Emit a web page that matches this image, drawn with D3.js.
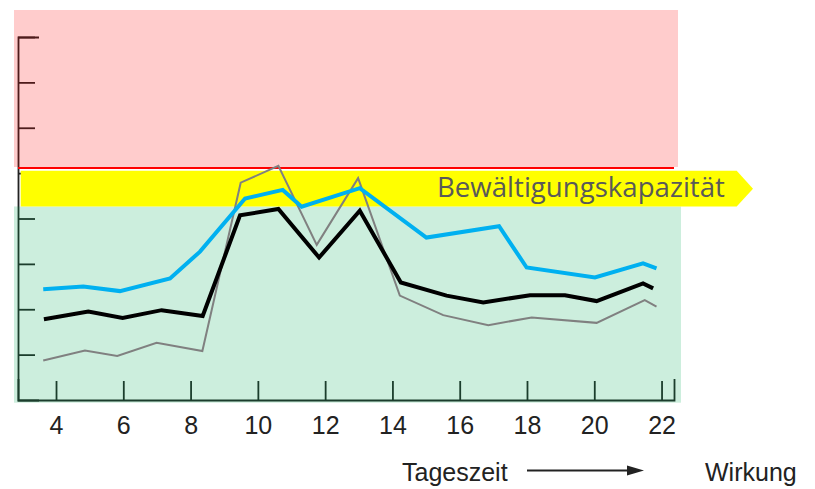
<!DOCTYPE html>
<html>
<head>
<meta charset="utf-8">
<script src="https://cdn.jsdelivr.net/npm/d3@7"></script>
<style>
  body { margin: 0; background: #fff; }
  svg { display: block; }
</style>
</head>
<body>
<script>
const W = 815, H = 489;

// hours of day (x) and load level (y, 0..8)
const blackHours  = [3.64, 4.96, 5.98, 7.14, 8.36, 9.47, 10.61, 11.82, 13.03, 14.25, 15.61, 16.70, 18.09, 19.13, 20.07, 21.45, 21.75];
const blackValues = [1.78, 1.95, 1.81, 1.98, 1.85, 4.07, 4.21, 3.14, 4.17, 2.59, 2.30, 2.15, 2.31, 2.31, 2.18, 2.57, 2.46];

const blueHours  = [3.62, 4.81, 5.90, 7.39, 8.28, 9.62, 10.74, 11.30, 13.03, 15.01, 17.17, 17.99, 20.02, 21.45, 21.85];
const blueValues = [2.44, 2.50, 2.40, 2.68, 3.27, 4.44, 4.63, 4.26, 4.67, 3.58, 3.83, 2.92, 2.70, 3.01, 2.90];

const grayHours  = [3.62, 4.86, 5.82, 6.99, 8.35, 9.49, 10.61, 11.75, 12.98, 14.22, 15.51, 16.85, 18.14, 20.07, 21.50, 21.85];
const grayValues = [0.87, 1.09, 0.97, 1.26, 1.08, 4.79, 5.16, 3.42, 4.89, 2.30, 1.87, 1.65, 1.82, 1.70, 2.20, 2.06];

const xTicks = [4, 6, 8, 10, 12, 14, 16, 18, 20, 22];
const yTicks = [1, 2, 3, 4, 5, 6, 7, 8];
const overloadLevel = 5.113;         // red threshold line
const capacityBand = [4.265, 5.05];  // yellow arrow, bottom / top
const capacityLabel = "Bewältigungskapazität";

const svg = d3.select("body").append("svg")
    .attr("width", W)
    .attr("height", H);

const x = d3.scaleLinear().domain([2.87, 22.37]).range([18, 674]);
const y = d3.scaleLinear().domain([0, 8]).range([400, 37]);

const axisColor = "#222";

// axes first, the tinted zones go over them
let yAxis = svg.append("g")
    .attr("transform", "translate(18,0)")
    .call(d3.axisRight(y).tickValues(yTicks).tickSizeInner(17).tickSizeOuter(21).tickFormat(""));

let xAxis = svg.append("g")
    .attr("transform", "translate(0,400)")
    .call(d3.axisBottom(x).tickValues(xTicks).tickSizeInner(-19).tickSizeOuter(-21).tickPadding(16));

[yAxis, xAxis].forEach(a => {
    a.selectAll("path, line").attr("stroke", axisColor).attr("stroke-width", 1.8);
});
xAxis.selectAll("text")
    .attr("fill", "#222")
    .style("font-family", "'Liberation Sans', Arial, sans-serif")
    .style("font-size", "25px");

const bandTop = y(capacityBand[1]), bandBot = y(capacityBand[0]);
const redY = y(overloadLevel);

// red zone and green zone (semi transparent so the axis is tinted)
svg.append("rect")
    .attr("x", 14).attr("y", 10)
    .attr("width", 664).attr("height", redY - 1 - 10)
    .attr("fill", "rgb(255,0,0)").attr("fill-opacity", 0.2);

svg.append("rect")
    .attr("x", 14).attr("y", bandBot)
    .attr("width", 667).attr("height", 402.7 - bandBot)
    .attr("fill", "rgb(0,170,85)").attr("fill-opacity", 0.2);

svg.append("line")
    .attr("x1", 18).attr("x2", 674)
    .attr("y1", redY).attr("y2", redY)
    .attr("stroke", "#ff0000").attr("stroke-width", 2);

// yellow capacity arrow
svg.append("path")
    .attr("d", `M20.7,${bandTop}H736.7L753,${(bandTop + bandBot) / 2}L736.7,${bandBot}H20.7Z`)
    .attr("fill", "#ffff00");

const bandText = svg.append("text")
    .attr("x", 437)
    .attr("y", 197)
    .attr("fill", "#595959")
    .style("font-family", "'Open Sans', sans-serif")
    .style("font-size", "24px")
    .text(capacityLabel);
const tl = bandText.node().getComputedTextLength();
bandText.style("font-size", (24 * 288 / tl) + "px");

// series
const line = d3.line().x(d => x(d[0])).y(d => y(d[1]));

svg.append("path")
    .datum(d3.zip(grayHours, grayValues))
    .attr("d", line)
    .attr("fill", "none").attr("stroke", "#808080").attr("stroke-width", 2);

svg.append("path")
    .datum(d3.zip(blueHours, blueValues))
    .attr("d", line)
    .attr("fill", "none").attr("stroke", "#00b0f0").attr("stroke-width", 4);

svg.append("path")
    .datum(d3.zip(blackHours, blackValues))
    .attr("d", line)
    .attr("fill", "none").attr("stroke", "#000").attr("stroke-width", 4);

// bottom captions
const capFont = "'Liberation Sans', Arial, sans-serif";
svg.append("text")
    .attr("x", 402).attr("y", 481)
    .attr("fill", "#222")
    .style("font-family", capFont).style("font-size", "25px")
    .text("Tageszeit");

svg.append("text")
    .attr("x", 705).attr("y", 481)
    .attr("fill", "#222")
    .style("font-family", capFont).style("font-size", "25px")
    .text("Wirkung");

svg.append("line")
    .attr("x1", 527).attr("x2", 630)
    .attr("y1", 470.5).attr("y2", 470.5)
    .attr("stroke", "#222").attr("stroke-width", 2);
svg.append("path")
    .attr("d", "M627,465.5L644,470.5L627,475.5Z")
    .attr("fill", "#222");
</script>
</body>
</html>
